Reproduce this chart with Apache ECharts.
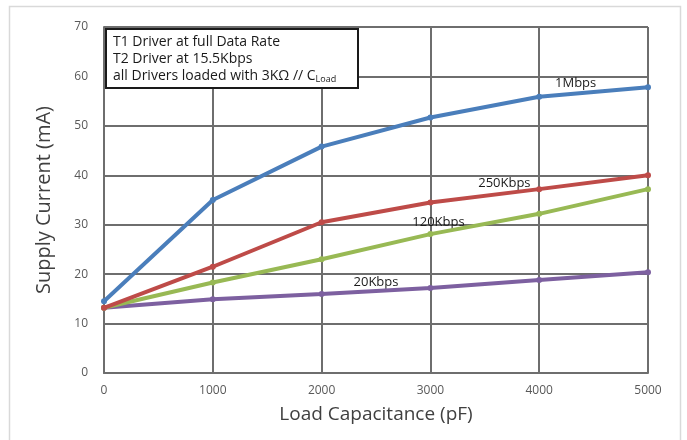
<!DOCTYPE html>
<html>
<head>
<meta charset="utf-8">
<script src="https://cdn.jsdelivr.net/npm/echarts@6/dist/echarts.min.js"></script>
<style>
html,body{margin:0;padding:0;background:#fff;}
#c{width:687px;height:440px;}
</style>
</head>
<body>
<div id="c"></div>
<script>
var capacitance = [0, 1000, 2000, 3000, 4000, 5000];
var rate1M   = [14.5, 35.0, 45.8, 51.7, 55.9, 57.8];
var rate250K = [13.2, 21.5, 30.5, 34.5, 37.2, 40.0];
var rate120K = [13.2, 18.3, 23.0, 28.1, 32.2, 37.2];
var rate20K  = [13.2, 14.9, 16.0, 17.2, 18.8, 20.4];
var seriesNames = ['1Mbps', '250Kbps', '120Kbps', '20Kbps'];
var labelPos = [[4335, 58.6], [3680, 38.3], [3074, 30.4], [2500, 18.3]];
var colors = ['#4a7ebb', '#be4b48', '#98b954', '#7d60a0'];
var yTicks = [0, 10, 20, 30, 40, 50, 60, 70];
var xTicks = [0, 1000, 2000, 3000, 4000, 5000];

var allData = [rate1M, rate250K, rate120K, rate20K];
var font = '"Open Sans", "Liberation Sans", sans-serif';

function pairs(vals) {
  return capacitance.map(function (c, i) { return [c, vals[i]]; });
}

var series = allData.map(function (vals, k) {
  return {
    name: seriesNames[k],
    type: 'line',
    data: pairs(vals),
    symbol: 'circle',
    symbolSize: 6,
    lineStyle: { width: 4, color: colors[k] },
    itemStyle: { color: colors[k] },
    z: 10 - k,
    markPoint: {
      symbol: 'circle',
      symbolSize: 0,
      silent: true,
      data: [{
        coord: labelPos[k],
        label: {
          show: true,
          formatter: seriesNames[k],
          color: '#1a1a1a',
          fontSize: 13,
          fontFamily: font,
          position: 'inside'
        }
      }]
    }
  };
});

var chart = echarts.init(document.getElementById('c'));
chart.setOption({
  animation: false,
  backgroundColor: '#fff',
  grid: { left: 104, right: 39, top: 27, bottom: 67, containLabel: false },
  xAxis: {
    type: 'value',
    min: 0, max: 5000, interval: 1000,
    name: 'Load Capacitance (pF)',
    nameLocation: 'middle',
    nameGap: 32,
    nameTextStyle: { fontSize: 19, color: '#404040', fontFamily: font },
    axisLine: { show: true, lineStyle: { color: '#6e6e6e', width: 2 } },
    axisTick: { show: false },
    axisLabel: { color: '#595959', fontSize: 12, fontFamily: font, margin: 12,
      formatter: function (v) { return xTicks.indexOf(v) >= 0 ? String(v) : ''; } },
    splitLine: { show: true, lineStyle: { color: '#6e6e6e', width: 2 } }
  },
  yAxis: {
    type: 'value',
    min: 0, max: 70, interval: 10,
    name: 'Supply Current (mA)',
    nameLocation: 'middle',
    nameGap: 50,
    nameTextStyle: { fontSize: 20, color: '#404040', fontFamily: font },
    axisLine: { show: true, lineStyle: { color: '#6e6e6e', width: 2 } },
    axisTick: { show: false },
    axisLabel: { color: '#595959', fontSize: 12, fontFamily: font, margin: 16,
      formatter: function (v) { return yTicks.indexOf(v) >= 0 ? String(v) : ''; } },
    splitLine: { show: true, lineStyle: { color: '#6e6e6e', width: 2 } }
  },
  graphic: [
    {
      type: 'rect',
      shape: { x: 9.5, y: 6.5, width: 671, height: 440 },
      style: { fill: 'none', stroke: '#d9d9d9', lineWidth: 1.5 },
      silent: true, z: 0
    },
    {
      type: 'rect',
      shape: { x: 106, y: 29, width: 252, height: 59 },
      style: { fill: '#fff', stroke: '#1a1a1a', lineWidth: 2 },
      z: 100
    },
    {
      type: 'text',
      left: 113, top: 33,
      z: 101,
      style: {
        text: 'T1 Driver at full Data Rate\nT2 Driver at 15.5Kbps\nall Drivers loaded with 3KΩ // C{sub|Load}',
        font: '14px ' + font,
        fill: '#1a1a1a',
        lineHeight: 17.3,
        rich: {
          sub: { fontSize: 9, fontFamily: font, fill: '#1a1a1a', padding: [7, 0, 0, 0] }
        }
      }
    }
  ],
  series: series
});
</script>
</body>
</html>
